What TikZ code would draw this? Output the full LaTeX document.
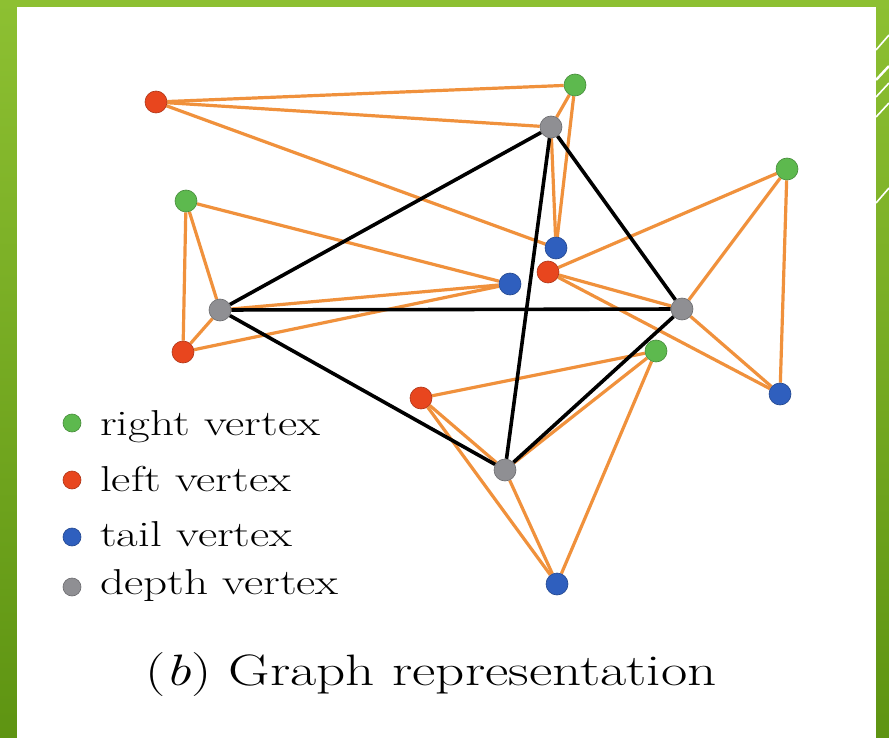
\documentclass[tikz,border=0pt]{standalone}
\usepackage{graphicx}
\definecolor{gA}{HTML}{8DC032}
\definecolor{gB}{HTML}{5E9412}
\definecolor{vgreen}{HTML}{5DB94E}
\definecolor{vred}{HTML}{E8461E}
\definecolor{vblue}{HTML}{2F5FBE}
\definecolor{vgray}{HTML}{8F8F93}
\definecolor{eorange}{HTML}{F0913C}
\pgfdeclarelayer{bglayer}
\pgfdeclarelayer{edges}
\pgfsetlayers{bglayer,edges,main}
\tikzset{
  vtx/.style={circle, minimum size=22pt, inner sep=0pt, fill=#1, draw=#1!75!black, line width=0.6pt},
  lvtx/.style={circle, minimum size=18pt, inner sep=0pt, fill=#1, draw=#1!75!black, line width=0.6pt},
  oedge/.style={draw=eorange, line width=3.2pt},
  bedge/.style={draw=black, line width=3.6pt},
  deco/.style={draw=white, line width=1.6pt},
  legtext/.style={anchor=base west, inner sep=0pt, font=\fontsize{36}{40}\selectfont},
}
\begin{document}
\begin{tikzpicture}[x=1pt,y=-1pt]
\useasboundingbox (0,0) rectangle (889,738);
\begin{pgfonlayer}{bglayer}
\shade[top color=gA, bottom color=gB] (0,0) rectangle (889,738);
\fill[white] (17,7) rectangle (876,738);
% decorative lines
\coordinate (l1a) at (876,50);  \coordinate (l1b) at (889,35);
\coordinate (l2a) at (876,80);  \coordinate (l2b) at (889,66);
\coordinate (l3a) at (876,97);  \coordinate (l3b) at (889,83);
\coordinate (l4a) at (876,117); \coordinate (l4b) at (889,103);
\coordinate (l5a) at (876,203); \coordinate (l5b) at (889,188);
\draw[deco] (l1a) -- (l1b);
\draw[deco, line width=2.4pt] (l2a) -- (l2b);
\draw[deco] (l3a) -- (l3b);
\draw[deco] (l4a) -- (l4b);
\draw[deco] (l5a) -- (l5b);
\end{pgfonlayer}
% vertices
\node[vtx=vred]   (R1) at (156,102) {};
\node[vtx=vgreen] (G1) at (575,85) {};
\node[vtx=vgray]  (D1) at (551,127) {};
\node[vtx=vgreen] (G2) at (186,201) {};
\node[vtx=vgreen] (G3) at (787,169) {};
\node[vtx=vblue]  (B1) at (556,248) {};
\node[vtx=vred]   (R2) at (548,272) {};
\node[vtx=vblue]  (B2) at (510,284) {};
\node[vtx=vgray]  (D2) at (220,310) {};
\node[vtx=vgray]  (D3) at (682,309) {};
\node[vtx=vred]   (R3) at (183,352) {};
\node[vtx=vgreen] (G4) at (656,351) {};
\node[vtx=vblue]  (B3) at (780,394) {};
\node[vtx=vred]   (R4) at (421,398) {};
\node[vtx=vgray]  (D4) at (505,470) {};
\node[vtx=vblue]  (B4) at (557,584) {};
\begin{pgfonlayer}{edges}
% group 1
\draw[oedge] (R1) -- (G1);
\draw[oedge] (R1) -- (D1);
\draw[oedge] (R1) -- (B1);
\draw[oedge] (G1) -- (D1);
\draw[oedge] (G1) -- (B1);
\draw[oedge] (D1) -- (B1);
% group 2
\draw[oedge] (G2) -- (R3);
\draw[oedge] (G2) -- (D2);
\draw[oedge] (G2) -- (B2);
\draw[oedge] (D2) -- (B2);
\draw[oedge] (R3) -- (B2);
\draw[oedge] (R3) -- (D2);
% group 3
\draw[oedge] (R2) -- (G3);
\draw[oedge] (R2) -- (D3);
\draw[oedge] (R2) -- (B3);
\draw[oedge] (G3) -- (D3);
\draw[oedge] (G3) -- (B3);
\draw[oedge] (D3) -- (B3);
% group 4
\draw[oedge] (G4) -- (R4);
\draw[oedge] (G4) -- (D4);
\draw[oedge] (G4) -- (B4);
\draw[oedge] (R4) -- (D4);
\draw[oedge] (R4) -- (B4);
\draw[oedge] (D4) -- (B4);
% depth graph
\draw[bedge] (D1) -- (D2);
\draw[bedge] (D1) -- (D3);
\draw[bedge] (D1) -- (D4);
\draw[bedge] (D2) -- (D3);
\draw[bedge] (D2) -- (D4);
\draw[bedge] (D3) -- (D4);
\end{pgfonlayer}
% legend
\node[lvtx=vgreen] (LG) at (72,423) {};
\node[lvtx=vred]   (LR) at (72,480) {};
\node[lvtx=vblue]  (LB) at (72,537) {};
\node[lvtx=vgray]  (LD) at (72,587) {};
\node[legtext] (TG) at (100,435) {\scalebox{1.31}[1]{right vertex}};
\node[legtext] (TR) at (100,491) {\scalebox{1.31}[1]{left vertex}};
\node[legtext] (TB) at (100,546) {\scalebox{1.31}[1]{tail vertex}};
\node[legtext] (TD) at (100,594) {\scalebox{1.31}[1]{depth vertex}};
% caption
\node[anchor=base west, inner sep=0pt, font=\fontsize{44}{50}\selectfont] (cap) at (145,685) {\scalebox{1.30}[1]{(\textit{b}) Graph representation}};
\end{tikzpicture}
\end{document}
